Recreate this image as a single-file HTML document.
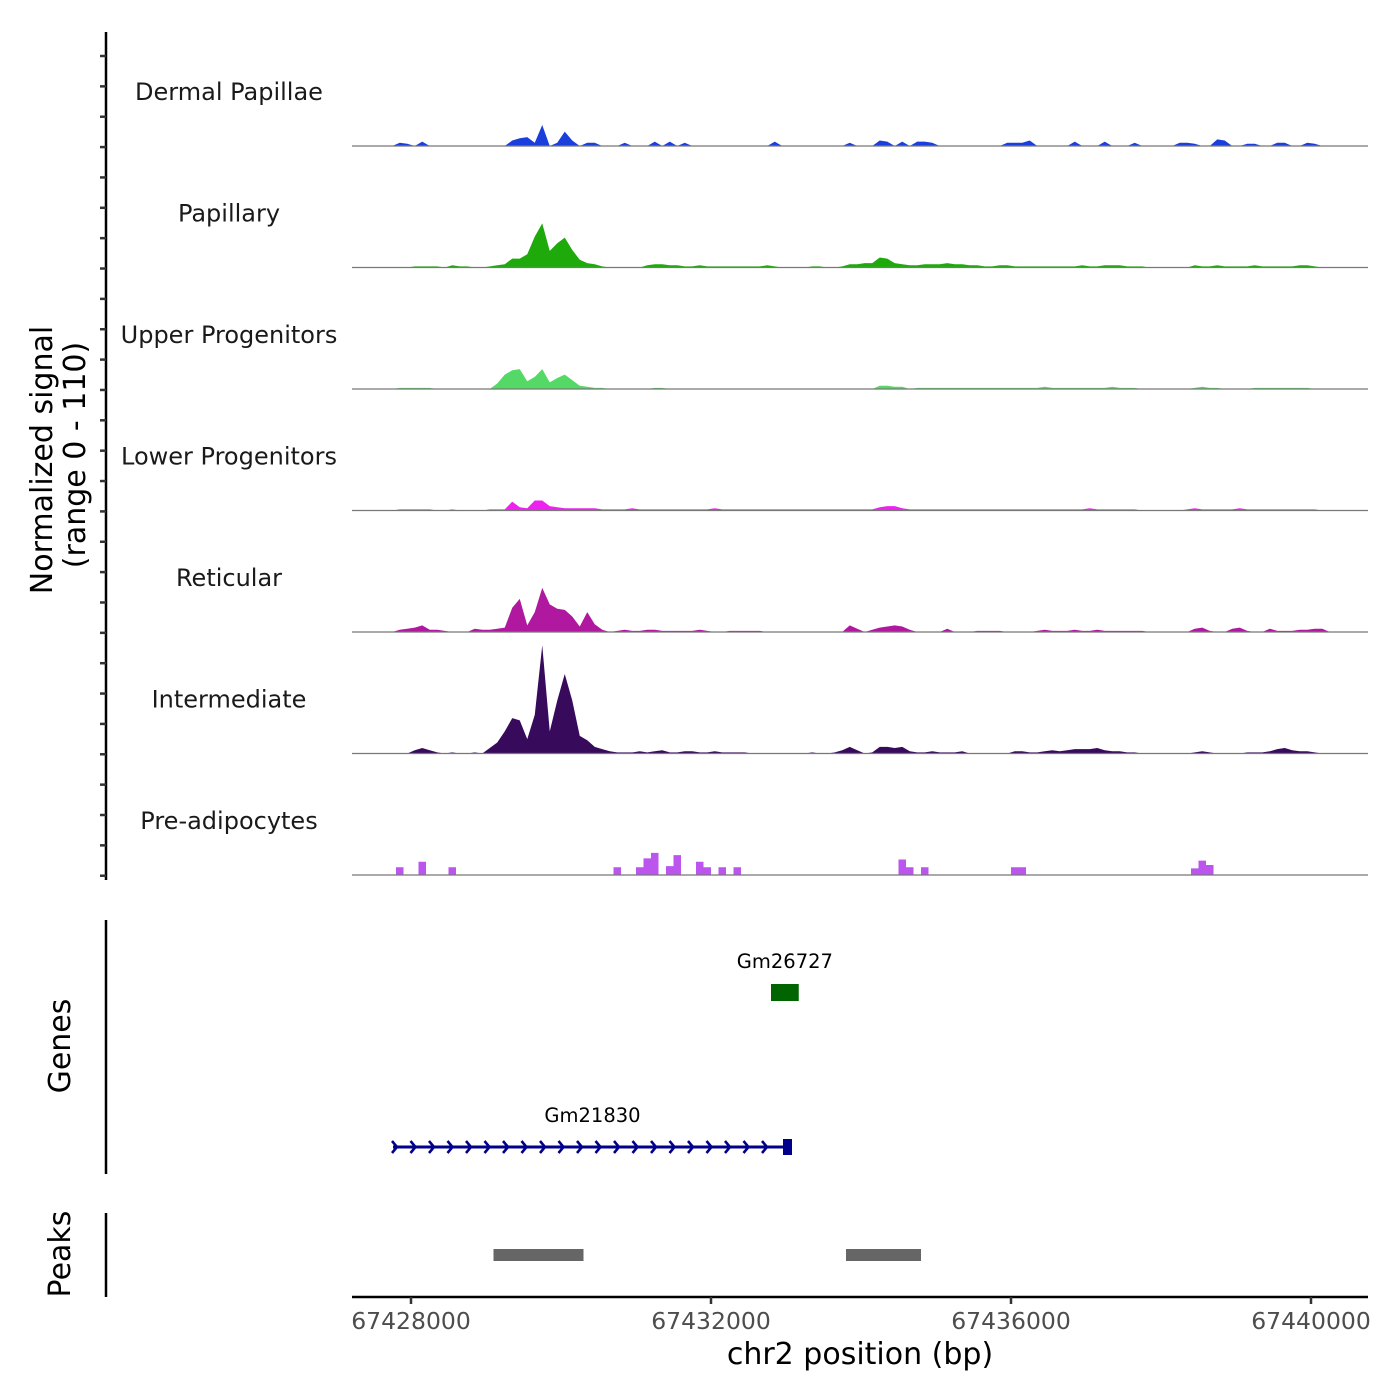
<!DOCTYPE html>
<html><head><meta charset="utf-8"><style>
html,body{margin:0;padding:0;background:#fff;}
svg{display:block;font-family:"DejaVu Sans","Liberation Sans",sans-serif;}
</style></head><body>
<svg id="chart" width="1400" height="1400" viewBox="0 0 1400 1400" xmlns="http://www.w3.org/2000/svg">
<g id="tracks"></g>
<g id="labels"></g>
<line x1="106" y1="32" x2="106" y2="880" stroke="#000" stroke-width="2.5"/>
<g id="yticks"></g>
<text transform="translate(52,460) rotate(-90)" text-anchor="middle" font-size="30">Normalized signal</text>
<text transform="translate(85,455) rotate(-90)" text-anchor="middle" font-size="30">(range 0 - 110)</text>
<line x1="106" y1="920" x2="106" y2="1174" stroke="#000" stroke-width="2.5"/>
<text transform="translate(70,1046) rotate(-90)" text-anchor="middle" font-size="30">Genes</text>
<line x1="106" y1="1213" x2="106" y2="1297" stroke="#000" stroke-width="2.5"/>
<text transform="translate(70,1254) rotate(-90)" text-anchor="middle" font-size="30">Peaks</text>
<g id="genes"></g>
<g id="peaks"></g>
<line x1="352" y1="1297" x2="1368" y2="1297" stroke="#000" stroke-width="2.5"/>
<g id="xticks"></g>
<text x="860" y="1364" text-anchor="middle" font-size="30">chr2 position (bp)</text>
</svg>
<script>
const binStart = 67427200;
const binSize = 100;
const trackNames = ["Dermal Papillae","Papillary","Upper Progenitors","Lower Progenitors","Reticular","Intermediate","Pre-adipocytes"];
const trackColors = ["#1a3fdc","#1faa0c","#55d966","#ee22ee","#b0189f","#380a5c","#bb55ee"];
const dermalPapillae = [0,0,0,0,0,0,3,2,0,4, 0,0,0,0,0,0,0,0,0,0, 0,5,7,8,3,19,0,3,13,5, 0,3,3,0,0,0,3,0,0,0, 4,0,4,0,3,0,0,0,0,0, 0,0,0,0,0,0,4,0,0,0, 0,0,0,0,0,0,3,0,0,0, 5,4,0,4,0,4,4,3,0,0, 0,0,0,0,0,0,0,3,3,3, 5,0,0,0,0,0,4,0,0,0, 4,0,0,0,3,0,0,0,0,0, 3,3,2,0,0,6,5,0,0,2, 2,0,0,3,3,0,0,3,2,0, 0,0,0,0,0,0];
const papillary = [0,0,0,0,0,0,0,0,1,1, 1,1,0,2,1,1,0,0,1,2, 3,8,8,12,28,40,15,22,27,16, 7,4,3,1,0,0,0,0,0,2, 3,3,2,2,1,1,2,1,1,1, 1,1,1,1,1,2,1,0,0,0, 0,1,1,0,0,1,3,3,4,4, 9,8,4,3,2,2,3,3,3,4, 3,3,2,2,1,1,2,2,1,1, 1,1,1,1,1,1,1,2,1,1, 2,2,2,1,1,1,0,0,0,0, 0,0,2,1,1,2,1,1,1,1, 2,1,1,1,1,1,2,2,1,0, 0,0,0,0,0,0];
const upperProgenitors = [0,0,0,0,0,0,1,1,1,1, 1,0,0,0,0,0,0,0,0,5, 13,17,18,7,11,18,6,10,13,8, 3,2,1,1,0,0,0,0,0,0, 1,1,0,0,0,0,0,0,0,0, 0,0,0,0,0,0,0,0,0,0, 0,0,0,0,0,0,0,0,0,0, 3,3,2,2,0,1,1,1,1,1, 1,1,1,1,1,1,1,1,1,1, 1,1,2,1,1,1,1,1,1,1, 1,2,1,1,1,0,0,0,0,0, 0,0,1,2,1,1,0,0,0,0, 1,1,1,1,1,1,1,1,0,0, 0,0,0,0,0,0];
const lowerProgenitors = [0,0,0,0,0,0,1,1,1,1, 1,0,0,1,0,0,0,0,1,1, 1,8,3,2,9,9,4,3,2,2, 2,2,2,1,1,1,1,2,1,1, 1,1,1,1,1,1,1,1,2,1, 1,1,1,1,1,1,1,1,1,1, 1,1,1,1,1,1,1,1,1,1, 3,4,4,2,1,1,1,1,1,1, 1,1,1,1,1,1,1,1,1,1, 1,1,1,1,1,1,1,1,2,1, 1,1,1,1,1,0,0,0,0,0, 0,1,2,1,1,1,1,1,2,1, 1,1,1,1,1,1,1,1,1,0, 0,0,0,0,0,0];
const reticular = [0,0,0,0,0,0,2,3,4,6, 2,2,1,0,0,0,3,2,2,3, 4,22,30,6,18,40,25,21,20,14, 5,18,7,2,0,1,2,1,1,2, 2,1,1,1,1,1,2,1,0,0, 1,1,1,1,1,0,0,0,0,0, 0,0,0,0,0,0,6,3,0,2, 4,5,6,5,2,0,0,0,0,3, 0,0,0,1,1,1,1,0,0,0, 0,1,2,1,1,1,2,1,1,2, 1,1,1,1,1,1,0,0,0,0, 0,0,3,4,1,0,0,3,4,1, 0,0,3,1,1,1,2,2,3,3, 0,0,0,0,0,0];
const intermediate = [0,0,0,0,0,0,0,0,3,5, 3,1,0,1,0,0,1,0,5,10, 20,32,30,13,35,98,20,48,72,48, 16,12,6,4,2,1,1,1,2,1, 2,3,1,1,2,2,1,1,2,1, 1,1,1,0,0,0,0,0,0,0, 0,1,0,0,1,3,6,3,0,1, 6,6,5,6,2,1,1,2,1,1, 1,2,0,0,0,0,0,0,2,2, 1,1,2,3,2,3,4,4,4,5, 3,2,2,1,1,0,0,0,0,0, 0,0,1,2,1,0,0,0,0,1, 1,1,2,4,5,3,2,2,1,0, 0,0,0,0,0,0];
const preAdipocytes = [0,0,0,0,0,0,7,0,0,12, 0,0,0,7,0,0,0,0,0,0, 0,0,0,0,0,0,0,0,0,0, 0,0,0,0,0,7,0,0,7,15, 20,0,8,18,0,0,12,7,0,7, 0,7,0,0,0,0,0,0,0,0, 0,0,0,0,0,0,0,0,0,0, 0,0,0,14,7,0,7,0,0,0, 0,0,0,0,0,0,0,0,7,7, 0,0,0,0,0,0,0,0,0,0, 0,0,0,0,0,0,0,0,0,0, 0,0,6,13,9,0,0,0,0,0, 0,0,0,0,0,0,0,0,0,0, 0,0,0,0,0,0];
const trackValues = [dermalPapillae,papillary,upperProgenitors,lowerProgenitors,reticular,intermediate,preAdipocytes];
const trackStepped = [false,false,false,false,false,false,true];
const yMax = 110;
const xTickValues = [67428000,67432000,67436000,67440000];
const geneNames = ["Gm26727","Gm21830"];
const geneStarts = [67432800,67427760];
const geneEnds = [67433170,67433080];
const peakStarts = [67429100,67433800];
const peakEnds = [67430300,67434800];

const NS = "http://www.w3.org/2000/svg";
const X0 = 352, X1 = 1368;
function xScale(bp){ return 411 + (bp - 67428000) * 0.075; }
const firstBase = 146, trackStep = 121.5, trackH = 121.5;
function baseY(t){ return firstBase + t * trackStep; }
function yScale(t, v){ return baseY(t) - v / yMax * trackH; }
function mk(tag, attrs, parent){ const e = document.createElementNS(NS, tag); for (const k in attrs) e.setAttribute(k, attrs[k]); parent.appendChild(e); return e; }

const gT = document.getElementById('tracks');
const gL = document.getElementById('labels');
trackValues.forEach((vals, t) => {
  let d = "M" + X0 + "," + baseY(t);
  vals.forEach((v, i) => {
    const s = binStart + i * binSize;
    if (trackStepped[t]) {
      d += " L" + xScale(s).toFixed(2) + "," + yScale(t, v).toFixed(2) + " L" + xScale(s + binSize).toFixed(2) + "," + yScale(t, v).toFixed(2);
    } else {
      d += " L" + xScale(s + binSize / 2).toFixed(2) + "," + yScale(t, v).toFixed(2);
    }
  });
  d += " L" + X1 + "," + baseY(t) + " Z";
  const p = mk('path', {d: d, fill: trackColors[t], stroke: 'none'}, gT);
  
  
  const bl = mk('line', {x1: X0, x2: X1, y1: baseY(t), y2: baseY(t), stroke: '#777', 'stroke-width': 1.2}, gT);
  
  
  const lb = mk('text', {x: 229, y: baseY(t) - 46, 'text-anchor': 'middle', 'font-size': 24, fill: '#1a1a1a'}, gL);
  lb.textContent = trackNames[t];
  
  
});

const gY = document.getElementById('yticks');
for (let y = 56; y <= 880; y += 30.36) {
  const tk = mk('line', {x1: 100, x2: 106, y1: y, y2: y, stroke: '#333', 'stroke-width': 2.5}, gY);
  
  
}

const gX = document.getElementById('xticks');
xTickValues.forEach(v => {
  const x = xScale(v);
  const tk = mk('line', {x1: x, x2: x, y1: 1297, y2: 1304, stroke: '#333', 'stroke-width': 2.5}, gX);
  
  
  const lb = mk('text', {x: x, y: 1329, 'text-anchor': 'middle', 'font-size': 23.5, fill: '#4d4d4d'}, gX);
  lb.textContent = String(v);
  
  
});

const gG = document.getElementById('genes');
{
  const x0 = xScale(geneStarts[0]), x1 = xScale(geneEnds[0]);
  const r = mk('rect', {x: x0, y: 984, width: x1 - x0, height: 17, fill: '#006400'}, gG);
  
  
  const t = mk('text', {x: (x0 + x1) / 2, y: 968, 'text-anchor': 'middle', 'font-size': 19.5, fill: '#000'}, gG);
  t.textContent = geneNames[0];
  
  
}
{
  const x0 = xScale(geneStarts[1]), x1 = xScale(geneEnds[1]);
  const y = 1147;
  const ln = mk('line', {x1: x0, x2: x1, y1: y, y2: y, stroke: '#00008b', 'stroke-width': 3}, gG);
  
  
  let d = "";
  for (let cx = x0 + 2; cx < x1 - 12; cx += 18.5) d += "M" + (cx - 3) + "," + (y - 6) + " L" + (cx + 2) + "," + y + " L" + (cx - 3) + "," + (y + 6) + " ";
  const ch = mk('path', {d: d, fill: 'none', stroke: '#00008b', 'stroke-width': 2.6}, gG);
  
  
  const ex = mk('rect', {x: x1 - 9, y: y - 8, width: 9, height: 16, fill: '#00008b'}, gG);
  
  
  const t = mk('text', {x: (x0 + x1) / 2, y: 1122, 'text-anchor': 'middle', 'font-size': 19.5, fill: '#000'}, gG);
  t.textContent = geneNames[1];
  
  
}

const gP = document.getElementById('peaks');
peakStarts.forEach((s, i) => {
  const x0 = xScale(s), x1 = xScale(peakEnds[i]);
  const r = mk('rect', {x: x0, y: 1249, width: x1 - x0, height: 12, fill: '#666'}, gP);
  
  
});
</script>
</body></html>
